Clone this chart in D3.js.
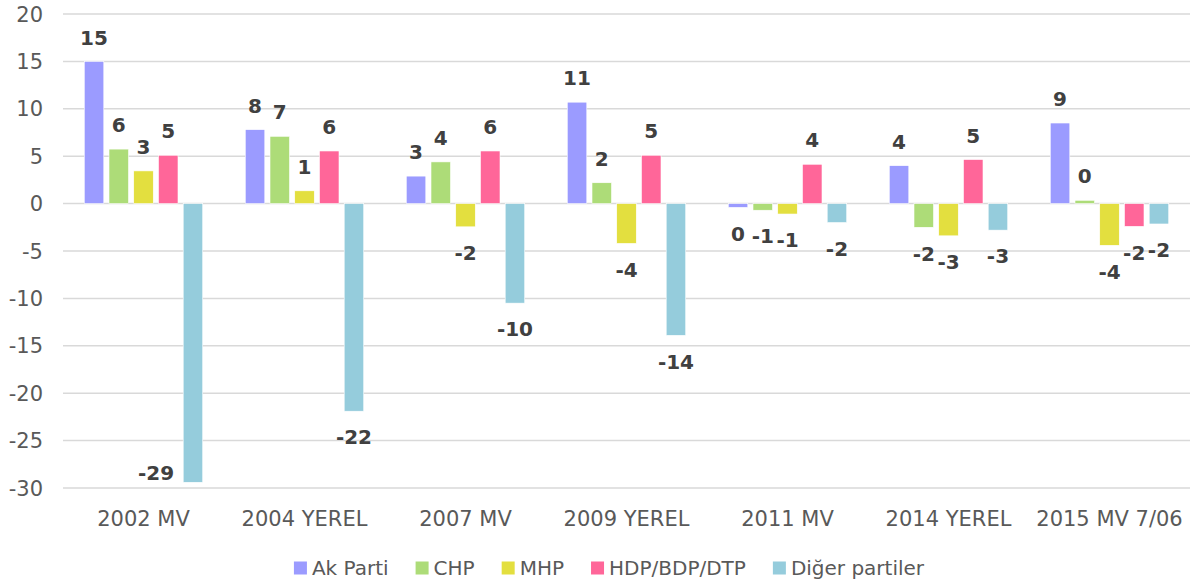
<!DOCTYPE html>
<meta charset="utf-8">
<style>
body { margin: 0; background: #fff; }
.tick-label { font: 21px "DejaVu Sans", sans-serif; fill: #595959; }
.legend-label { font: 20px "DejaVu Sans", sans-serif; fill: #595959; }
.value-label { font: bold 20px "DejaVu Sans", sans-serif; fill: #404040; }
</style>
<svg width="1194" height="586"></svg>
<script src="https://cdn.jsdelivr.net/npm/d3@7"></script>
<script>

// elections (x axis)
var categories = ["2002 MV", "2004 YEREL", "2007 MV", "2009 YEREL", "2011 MV", "2014 YEREL", "2015 MV 7/06"];
var parties = ["Ak Parti", "CHP", "MHP", "HDP/BDP/DTP", "Diğer partiler"];
var colors = ["#9b9bff", "#addc78", "#e3df3f", "#ff6699", "#95ccdc"];

// vote change per party
var akParti = [15.0, 7.8, 2.9, 10.7, -0.4, 4.0, 8.5];
var chp     = [5.75, 7.1, 4.4, 2.2, -0.7, -2.5, 0.35];
var mhp     = [3.45, 1.35, -2.45, -4.2, -1.1, -3.4, -4.4];
var hdp     = [5.1, 5.55, 5.55, 5.1, 4.15, 4.65, -2.4];
var diger   = [-29.4, -21.9, -10.5, -13.9, -2.0, -2.8, -2.15];

var yTicks = [20, 15, 10, 5, 0, -5, -10, -15, -20, -25, -30];

var seriesValues = [akParti, chp, mhp, hdp, diger];

var svg = d3.select("svg"),
    plotLeft = 63, plotRight = 1190, plotTop = 14, plotBottom = 488;

var x0 = d3.scaleBand().domain(categories).range([plotLeft, plotRight]);
var x1 = d3.scaleBand().domain(parties).range([0, x0.bandwidth()])
    .paddingInner(0.21).paddingOuter(0.86);
var y = d3.scaleLinear().domain([-30, 20]).range([plotBottom, plotTop]);

// gridlines
svg.append("g").selectAll("line")
  .data(yTicks)
  .enter().append("line")
    .attr("x1", plotLeft).attr("x2", plotRight)
    .attr("y1", function(d) { return y(d); })
    .attr("y2", function(d) { return y(d); })
    .attr("stroke", "#d9d9d9")
    .attr("stroke-width", 1.5);

// y tick labels
svg.append("g").selectAll("text")
  .data(yTicks)
  .enter().append("text")
    .attr("class", "tick-label")
    .attr("x", 43)
    .attr("y", function(d) { return y(d); })
    .attr("dy", "0.36em")
    .attr("text-anchor", "end")
    .text(function(d) { return d; });

// x labels
svg.append("g").selectAll("text")
  .data(categories)
  .enter().append("text")
    .attr("class", "tick-label")
    .attr("x", function(d) { return x0(d) + x0.bandwidth() / 2; })
    .attr("y", 518)
    .attr("dy", "0.36em")
    .attr("text-anchor", "middle")
    .text(function(d) { return d; });

var rows = [];
categories.forEach(function(c, i) {
  parties.forEach(function(p, j) {
    rows.push({cat: c, party: p, idx: j, value: seriesValues[j][i]});
  });
});

var bars = svg.append("g");
bars.selectAll("rect")
  .data(rows)
  .enter().append("rect")
    .attr("x", function(d) { return x0(d.cat) + x1(d.party); })
    .attr("width", x1.bandwidth())
    .attr("y", function(d) { return y(Math.max(0, d.value)); })
    .attr("height", function(d) { return Math.abs(y(d.value) - y(0)); })
    .attr("fill", function(d) { return colors[d.idx]; })
    .attr("stroke", "#fff")
    .attr("stroke-width", 0.6);

// value labels
svg.append("g").selectAll("text")
  .data(rows)
  .enter().append("text")
    .attr("class", "value-label")
    .attr("text-anchor", "middle")
    .each(function(d) {
      var cx = x0(d.cat) + x1(d.party) + x1.bandwidth() / 2;
      var el = d3.select(this);
      if (d.value >= 0) {
        el.attr("x", cx).attr("y", y(d.value) - 24);
      } else if (y(d.value) + 34 > plotBottom) {
        // no room below: put it beside the bar
        el.attr("x", x0(d.cat) + x1(d.party) - 9).attr("y", y(d.value) - 10)
          .attr("text-anchor", "end");
      } else {
        el.attr("x", cx).attr("y", y(d.value) + 26);
      }
    })
    .attr("dy", "0.36em")
    .text(function(d) { return String(Math.round(d.value)).replace("-0", "0"); });

// legend
var legend = svg.append("g");
var items = legend.selectAll("g")
  .data(parties)
  .enter().append("g");
items.append("rect")
  .attr("width", 13).attr("height", 13)
  .attr("y", -6.5)
  .attr("fill", function(d, i) { return colors[i]; });
items.append("text")
  .attr("class", "legend-label")
  .attr("x", 18)
  .attr("dy", "0.36em")
  .text(function(d) { return d; });

var pos = 0;
items.each(function() {
  var w = d3.select(this).select("text").node().getComputedTextLength();
  d3.select(this).attr("transform", "translate(" + pos + ",0)");
  pos += 18 + w + 27;
});
pos -= 27;
legend.attr("transform", "translate(" + (609 - pos / 2) + ",568)");

</script>
